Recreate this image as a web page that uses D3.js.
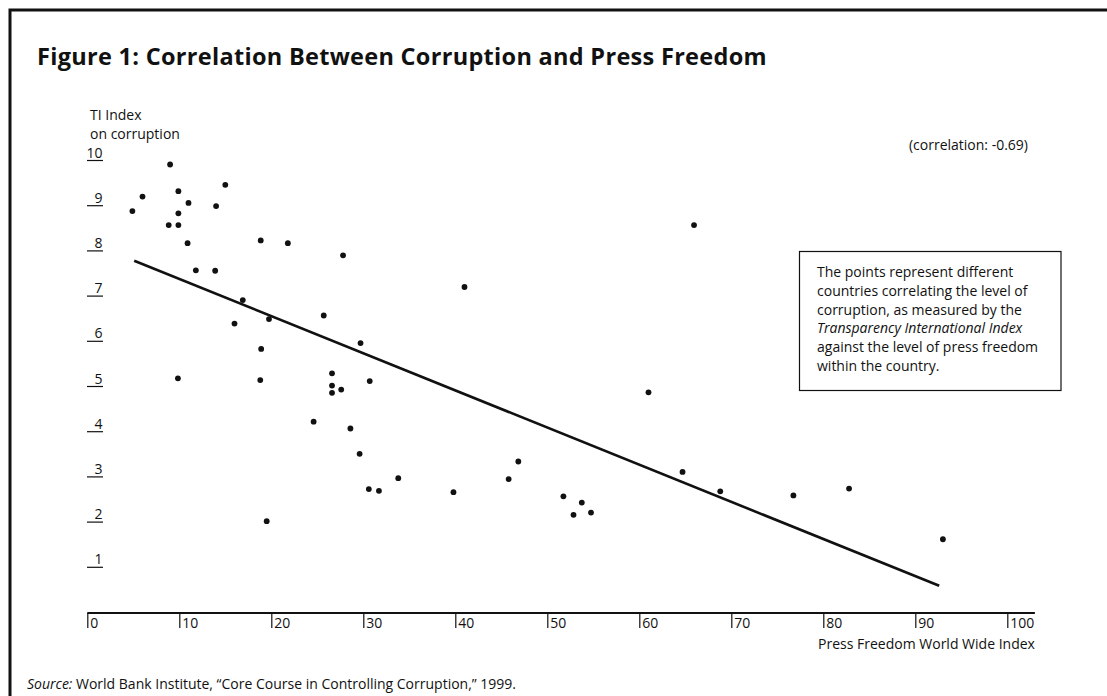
<!DOCTYPE html>
<html>
<head>
<meta charset="utf-8">
<script src="https://cdn.jsdelivr.net/npm/d3@7"></script>
<style>
  html, body { margin: 0; padding: 0; background: #fff; }
  svg { display: block; }
  text { font-family: "Open Sans", "Noto Sans", sans-serif; fill: #111; }
</style>
</head>
<body>
<svg id="chart" width="1107" height="696"></svg>
<script>
// ---- data ----
const pressFreedom = [4.9, 6.0, 9.0, 9.9, 11.0, 9.9, 8.85, 9.9, 14.0, 15.0, 10.9, 18.85, 11.8, 13.9, 16.9, 16.0, 19.75, 18.9, 9.85, 18.8, 19.5, 21.8, 27.8, 41.0, 25.7, 29.7, 26.6, 30.7, 26.6, 27.6, 26.6, 24.6, 28.6, 29.6, 33.8, 30.6, 31.7, 39.8, 46.85, 45.8, 51.75, 53.75, 52.85, 54.75, 61.0, 64.7, 65.95, 68.8, 76.75, 82.8, 93.0];
const tiIndex = [8.87, 9.19, 9.9, 9.31, 9.05, 8.82, 8.56, 8.56, 8.98, 9.45, 8.16, 8.22, 7.56, 7.55, 6.9, 6.38, 6.48, 5.82, 5.17, 5.13, 2.01, 8.16, 7.89, 7.19, 6.56, 5.95, 5.28, 5.11, 5.01, 4.92, 4.85, 4.21, 4.06, 3.5, 2.96, 2.72, 2.68, 2.65, 3.33, 2.94, 2.56, 2.42, 2.15, 2.2, 4.86, 3.1, 8.56, 2.67, 2.58, 2.73, 1.61];
const trendX = [5.1, 92.6];
const trendY = [7.77, 0.58];
const xTicks = [0, 10, 20, 30, 40, 50, 60, 70, 80, 90, 100];
const yTicks = [1, 2, 3, 4, 5, 6, 7, 8, 9, 10];
const titleText = "Figure 1: Correlation Between Corruption and Press Freedom";
const yTitle = ["TI Index", "on corruption"];
const xTitle = "Press Freedom World Wide Index";
const corrText = "(correlation: -0.69)";
const noteLines = [
  [{t: "The points represent different"}],
  [{t: "countries correlating the level of"}],
  [{t: "corruption, as measured by the"}],
  [{t: "Transparency International Index", i: true}],
  [{t: "against the level of press freedom"}],
  [{t: "within the country."}]
];
const sourceItalic = "Source:";
const sourceText = " World Bank Institute, \u201CCore Course in Controlling Corruption,\u201D 1999.";

// ---- layout ----
const svg = d3.select("#chart");
const x = d3.scaleLinear().domain([0, 100]).range([87.3, 1007.3]);
const y = d3.scaleLinear().domain([0, 10]).range([612, 160]);
const FONT = "'Open Sans', 'Noto Sans', sans-serif";
const FS = 14;

// frame (top and left edges visible)
svg.append("rect")
  .attr("x", 10).attr("y", 10).attr("width", 1200).attr("height", 800)
  .attr("fill", "none").attr("stroke", "#111").attr("stroke-width", 3);

// title
svg.append("text")
  .attr("x", 37).attr("y", 65)
  .attr("font-size", 23.5).attr("font-weight", "bold")
  .attr("letter-spacing", 0.3)
  .text(titleText);

// y title
svg.selectAll("text.ytitle").data(yTitle).enter().append("text")
  .attr("class", "ytitle")
  .attr("x", 90).attr("y", (d, i) => 120 + i * 19)
  .attr("font-size", FS)
  .text(d => d);

// y axis: underlined labels
const yAxis = d3.axisRight(y).tickValues(yTicks).tickSize(16).tickFormat(d3.format("d"));
const gy = svg.append("g").attr("transform", "translate(87,0)").call(yAxis);
gy.select(".domain").remove();
gy.selectAll(".tick line").attr("stroke", "#111").attr("stroke-width", 1.2);
gy.selectAll(".tick text")
  .attr("x", 15.5).attr("dy", -3).attr("text-anchor", "end")
  .attr("font-size", 14).attr("font-family", FONT).attr("fill", "#111");

// x axis
const xAxis = d3.axisBottom(x).tickValues(xTicks).tickSize(15).tickSizeOuter(0);
const gx = svg.append("g").attr("transform", `translate(0,${y(0) + 1})`).call(xAxis);
gx.select(".domain").remove();
gx.append("line")
  .attr("x1", x(0)).attr("x2", x(103))
  .attr("y1", 0).attr("y2", 0)
  .attr("stroke", "#111").attr("stroke-width", 2.2);
gx.selectAll(".tick line").attr("stroke", "#111").attr("stroke-width", 1.2);
gx.selectAll(".tick text")
  .attr("x", 2.5).attr("y", 15).attr("dy", 0).attr("text-anchor", "start")
  .attr("font-size", 14).attr("font-family", FONT).attr("fill", "#111");

// x title
svg.append("text")
  .attr("x", x(103)).attr("y", 649).attr("text-anchor", "end")
  .attr("font-size", FS)
  .text(xTitle);

// correlation text
svg.append("text")
  .attr("x", 1028).attr("y", 150).attr("text-anchor", "end")
  .attr("font-size", FS)
  .text(corrText);

// trend line
svg.append("line")
  .attr("x1", x(trendX[0])).attr("y1", y(trendY[0]))
  .attr("x2", x(trendX[1])).attr("y2", y(trendY[1]))
  .attr("stroke", "#111").attr("stroke-width", 2.6);

// points
const pts = pressFreedom.map((v, i) => ({x: v, y: tiIndex[i]}));
svg.selectAll("circle.pt").data(pts).enter().append("circle")
  .attr("class", "pt")
  .attr("cx", d => x(d.x)).attr("cy", d => y(d.y))
  .attr("r", 2.9).attr("fill", "#111");

// note box
svg.append("rect")
  .attr("x", 799.5).attr("y", 251.5).attr("width", 261.5).attr("height", 139)
  .attr("fill", "#fff").attr("stroke", "#111").attr("stroke-width", 1.2);
const note = svg.append("text").attr("font-size", FS);
noteLines.forEach((line, i) => {
  line.forEach(seg => {
    note.append("tspan").attr("x", 817).attr("y", 277 + i * 18.8)
      .attr("font-style", seg.i ? "italic" : "normal").text(seg.t);
  });
});

// source
const src = svg.append("text").attr("x", 27).attr("y", 689).attr("font-size", FS);
src.append("tspan").attr("font-style", "italic").text(sourceItalic);
src.append("tspan").text(sourceText);
</script>
</body>
</html>
